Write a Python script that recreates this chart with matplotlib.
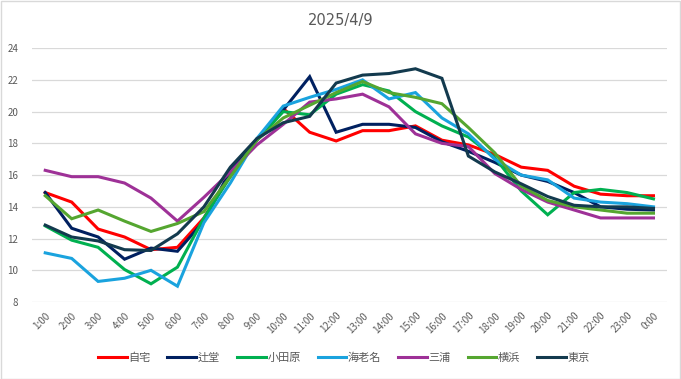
import matplotlib
matplotlib.use("Agg")
import matplotlib.pyplot as plt
from matplotlib.patches import Rectangle

plt.rcParams["font.family"] = ["Noto Sans CJK JP", "DejaVu Sans"]

hours = [f"{h}:00" for h in range(1, 24)] + ["0:00"]

# 各地点の気温 (℃)
jitaku   = [14.9, 14.3, 12.6, 12.1, 11.3, 11.45, 13.3, 16.0, 18.2, 20.2, 18.7, 18.15,
            18.8, 18.8, 19.1, 18.2, 17.9, 17.3, 16.5, 16.3, 15.3, 14.8, 14.7, 14.7]
tsujido  = [14.9, 12.65, 12.1, 10.7, 11.4, 11.2, 13.1, 16.3, 18.2, 20.1, 22.2, 18.7,
            19.2, 19.2, 19.0, 18.1, 17.5, 16.8, 16.0, 15.6, 14.9, 14.0, 13.85, 13.8]
odawara  = [12.8, 11.9, 11.45, 10.05, 9.15, 10.2, 13.3, 15.9, 18.2, 20.0, 19.8, 21.1,
            21.7, 21.3, 20.0, 19.1, 18.4, 17.1, 15.0, 13.5, 14.9, 15.1, 14.9, 14.5]
ebina    = [11.1, 10.75, 9.3, 9.5, 10.0, 9.0, 13.0, 15.5, 18.3, 20.35, 20.9, 21.4,
            22.0, 20.8, 21.2, 19.6, 18.6, 17.0, 16.0, 15.7, 14.55, 14.3, 14.2, 14.0]
miura    = [16.3, 15.9, 15.9, 15.5, 14.55, 13.1, 14.6, 16.2, 17.9, 19.2, 20.6, 20.8,
            21.1, 20.3, 18.6, 18.0, 17.8, 16.1, 15.1, 14.3, 13.8, 13.3, 13.3, 13.3]
yokohama = [14.7, 13.25, 13.8, 13.1, 12.45, 12.95, 13.7, 15.9, 18.2, 19.6, 20.4, 21.2,
            21.9, 21.2, 20.9, 20.5, 19.0, 17.4, 15.3, 14.4, 14.0, 13.8, 13.6, 13.6]
tokyo    = [12.85, 12.1, 11.85, 11.3, 11.25, 12.3, 14.0, 16.5, 18.3, 19.3, 19.7, 21.8,
            22.3, 22.4, 22.7, 22.1, 17.2, 16.2, 15.45, 14.65, 14.1, 14.0, 14.0, 13.9]

series = [
    ("自宅", jitaku, "#FF0000"),
    ("辻堂", tsujido, "#002060"),
    ("小田原", odawara, "#00B050"),
    ("海老名", ebina, "#1AA3DE"),
    ("三浦", miura, "#9E3197"),
    ("横浜", yokohama, "#55A630"),
    ("東京", tokyo, "#133A4E"),
]

fig = plt.figure(figsize=(6.81, 3.79), dpi=100)
ax = fig.add_axes([0.047, 0.203, 0.932, 0.67])

x = range(len(hours))
for name, vals, col in series:
    ax.plot(x, vals, color=col, lw=2.2, label=name, solid_joinstyle="miter")

ax.set_xlim(-0.5, len(hours) - 0.5)
ax.set_ylim(8, 24)
ax.set_yticks(range(8, 25, 2))
ax.set_xticks(list(x))
ax.set_xticklabels(hours, rotation=45, ha="right", rotation_mode="anchor")
ax.tick_params(axis="both", length=0, labelsize=7, labelcolor="#595959")
ax.tick_params(axis="x", pad=6)
ax.tick_params(axis="y", pad=10)
ax.grid(axis="y", color="#D9D9D9", lw=0.9)
ax.set_axisbelow(True)
for s in ax.spines.values():
    s.set_visible(False)

fig.text(0.5, 0.945, "2025/4/9", ha="center", va="center", fontsize=10.5,
         color="#595959", family=["DejaVu Sans"])

fig.legend(loc="center", bbox_to_anchor=(0.505, 0.055), ncol=7, frameon=False,
           fontsize=8, handlelength=2.6, columnspacing=1.5, handletextpad=0.15,
           labelcolor="#595959")

fig.add_artist(Rectangle((0.001, 0.001), 0.997, 0.997, transform=fig.transFigure,
                         fill=False, edgecolor="#D9D9D9", lw=1))

fig.savefig("out.png", dpi=100, facecolor="white")
